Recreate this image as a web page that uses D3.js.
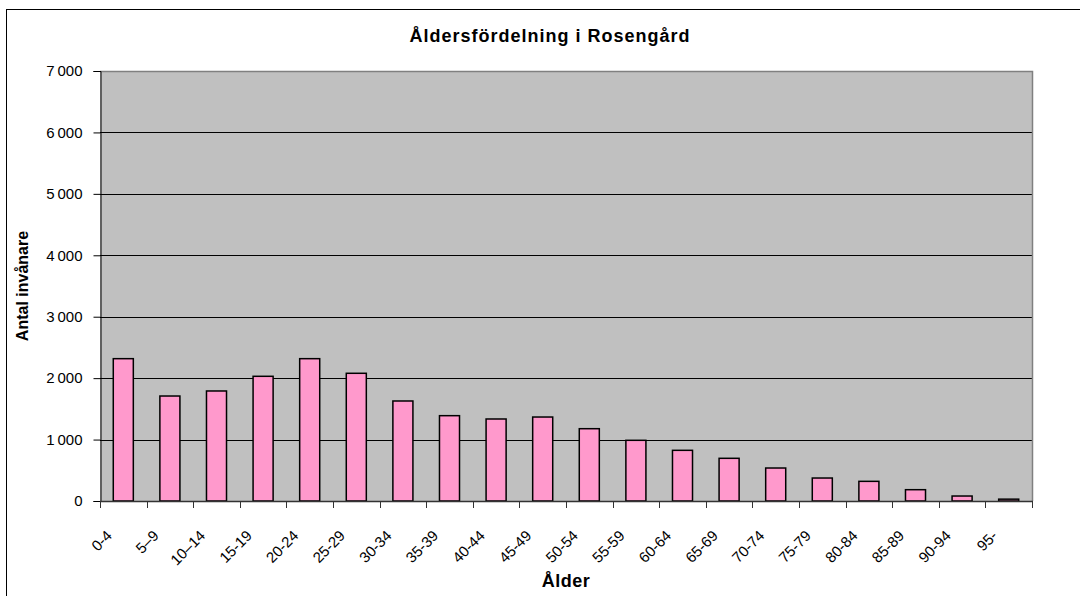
<!DOCTYPE html>
<html><head><meta charset="utf-8">
<script src="https://cdn.jsdelivr.net/npm/d3@7"></script>
<style>
html,body{margin:0;padding:0;background:#fff;}
svg{display:block;font-family:"Liberation Sans",Arial,sans-serif;}
</style></head>
<body>
<svg id="c" width="1080" height="596"></svg>
<script>
const categories = ["0-4","5\u20139","10\u201314","15-19","20-24","25-29","30-34","35-39","40-44","45-49","50-54","55-59","60-64","65-69","70-74","75-79","80-84","85-89","90-94","95-"];
const values = [2317,1709,1791,2030,2317,2079,1628,1389,1335,1367,1177,988,825,695,537,374,320,184,81,30];
const yTicks = [0,1000,2000,3000,4000,5000,6000,7000];
const title = "Åldersfördelning i Rosengård";
const xTitle = "Ålder";
const yTitle = "Antal invånare";

const svg = d3.select("#c");
const L = 100, R = 1032, T = 71, B = 501;

// outer border
svg.append("rect").attr("x",6.5).attr("y",9.5).attr("width",1200).attr("height",700)
  .attr("fill","#fff").attr("stroke","#000").attr("stroke-width",1);

const x = d3.scaleBand().domain(categories).range([L,R]).paddingInner(0.57).paddingOuter(0.285);
const y = d3.scaleLinear().domain([0,7000]).range([B,T]);
const loc = d3.formatLocale({decimal:",",thousands:"\u2009",grouping:[3],currency:["","kr"]});
const fmt = loc.format(",");

// plot background
svg.append("rect").attr("x",L).attr("y",T).attr("width",R-L).attr("height",B-T).attr("fill","#C0C0C0");

// gridlines
svg.append("g").selectAll("line").data(yTicks.filter(d=>d>0 && d<7000)).join("line")
  .attr("x1",L).attr("x2",R).attr("y1",d=>Math.round(y(d))+0.5).attr("y2",d=>Math.round(y(d))+0.5)
  .attr("stroke","#000").attr("stroke-width",1);

// top and right border of plot
svg.append("path").attr("d",`M${L},${T+0.5}H${R+0.5}V${B}`).attr("fill","none").attr("stroke","#808080").attr("stroke-width",1.5);

// bars
svg.append("g").selectAll("rect").data(values).join("rect")
  .attr("x",(d,i)=>x(categories[i]))
  .attr("y",d=>y(d))
  .attr("width",x.bandwidth())
  .attr("height",d=>B-y(d))
  .attr("fill","#FF99CC").attr("stroke","#000").attr("stroke-width",1.5);

// y axis
const yAxis = d3.axisLeft(y).tickValues(yTicks).tickSize(7).tickPadding(11).tickFormat(fmt);
const gy = svg.append("g").attr("transform",`translate(${L+0.5},0)`).call(yAxis);
gy.select(".domain").attr("stroke","#000");
gy.selectAll(".tick line").attr("stroke","#000");
gy.selectAll(".tick text").attr("font-size",15).attr("fill","#000").attr("font-family","Liberation Sans, Arial, sans-serif");

// x axis line + boundary ticks
const step = x.step();
const bounds = d3.range(categories.length+1).map(i=>L + i*step);
svg.append("line").attr("x1",L).attr("x2",R+1).attr("y1",B+0.5).attr("y2",B+0.5).attr("stroke","#333").attr("stroke-width",1.5);
svg.append("g").selectAll("line").data(bounds).join("line")
  .attr("x1",d=>Math.round(d)+0.5).attr("x2",d=>Math.round(d)+0.5).attr("y1",B).attr("y2",B+7)
  .attr("stroke","#333").attr("stroke-width",1);

// x labels rotated
svg.append("g").selectAll("text").data(categories).join("text")
  .attr("transform",d=>`translate(${x(d)+x.bandwidth()/2-14},${B+32}) rotate(-45)`)
  .attr("text-anchor","end").attr("dy","0.35em")
  .attr("font-size",15).attr("fill","#000")
  .text(d=>d);

// titles
svg.append("text").attr("x",550).attr("y",42).attr("text-anchor","middle")
  .attr("font-size",18).attr("font-weight","bold").attr("letter-spacing",1).text(title);
svg.append("text").attr("x",(L+R)/2).attr("y",587).attr("text-anchor","middle")
  .attr("font-size",18).attr("font-weight","bold").attr("letter-spacing",0.5).text(xTitle);
svg.append("text").attr("transform",`translate(28,${(T+B)/2}) rotate(-90)`).attr("text-anchor","middle")
  .attr("font-size",16).attr("font-weight","bold").text(yTitle);
</script>
</body></html>
